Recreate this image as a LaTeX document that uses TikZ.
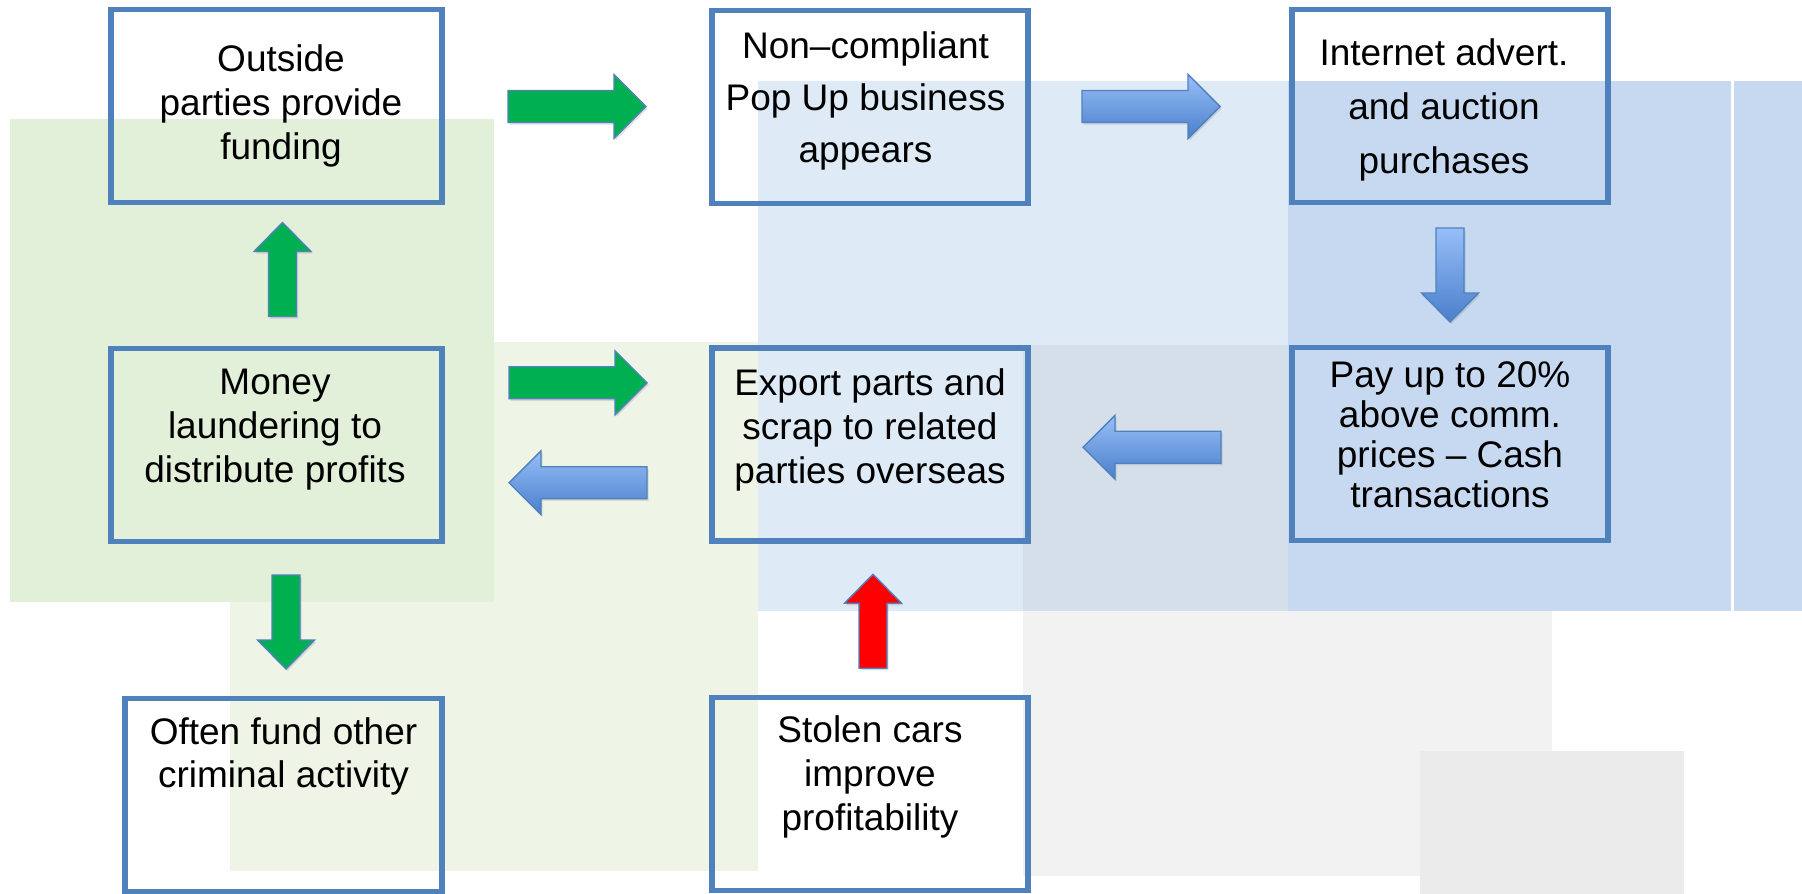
\documentclass[tikz,border=0pt]{standalone}
\usepackage{fontspec}
\setmainfont{Liberation Sans}
\usetikzlibrary{calc,shadows}
\definecolor{boxblue}{HTML}{4F81BD}
\definecolor{arrgreen}{HTML}{00B050}
\definecolor{arrred}{HTML}{FF0000}
\definecolor{arrtop}{HTML}{97BEF8}
\definecolor{arrbot}{HTML}{4A7FCB}
\definecolor{bggreen}{HTML}{E2EFD9}
\definecolor{bglgreen}{HTML}{EFF5E6}
\definecolor{bgblue}{HTML}{DEEAF6}
\definecolor{bgdblue}{HTML}{C6D9F0}
\definecolor{bggrey}{HTML}{F2F2F3}
\definecolor{bgmix}{HTML}{D5DFE9}
\definecolor{bgdgrey}{HTML}{EBEBEB}
\tikzset{
  box/.style={draw=boxblue, line width=5.5pt, minimum width=316pt, minimum height=193pt, inner sep=0pt},
  boxtxt/.style={align=center, inner sep=0pt, font=\fontsize{37pt}{44pt}\selectfont},
  arrline/.style={draw=boxblue, line width=1.4pt, drop shadow={opacity=0.25, shadow xshift=1.5pt, shadow yshift=-2pt}},
  greenarr/.style={arrline, fill=arrgreen},
  redarr/.style={arrline, fill=arrred},
  bluearr/.style={arrline, top color=arrtop, bottom color=arrbot},
  pics/harrow/.style={code={\path[#1] (-69,-16) -- (37,-16) -- (37,-32) -- (69,0) -- (37,32) -- (37,16) -- (-69,16) -- cycle;}},
  pics/varrow/.style={code={\path[#1] (-14,-47) -- (14,-47) -- (14,18) -- (28.5,18) -- (0,47) -- (-28.5,18) -- (-14,18) -- cycle;}},
}
\begin{document}
\begin{tikzpicture}[x=1pt,y=-1pt]
\fill[white] (0,0) rectangle (1802,894);
\useasboundingbox (0,0) rectangle (1802,894);
\fill[bglgreen] (230,342) rectangle (758,871);
\fill[bggreen] (10,119) rectangle (494,602);
\fill[bggrey] (1023,345) rectangle (1552,876);
\fill[bgdgrey] (1420,751) rectangle (1684,894);
\fill[bgblue] (758,81) rectangle (1288,611);
\fill[bgmix] (1023,345) rectangle (1288,611);
\fill[bgdblue] (1288,81) rectangle (1731,611);
\fill[bgdblue] (1734,81) rectangle (1802,611);

\node[box, minimum width=331pt] (fund) at (276.5,106) {};
\node[box] (popup) at (870,107) {};
\node[box] (internet) at (1450,106) {};
\node[box, minimum width=331pt] (launder) at (276.5,445) {};
\node[box] (export) at (870,444.5) {};
\node[box] (paycash) at (1450,444) {};
\node[box, minimum width=317pt] (crime) at (283.5,795) {};
\node[box] (stolen) at (870,794) {};

\node[boxtxt] (fund-txt) at ($(fund.center)+(4.5,-0.5)$) {Outside\\parties provide\\funding};
\node[boxtxt, font=\fontsize{37pt}{52pt}\selectfont] (popup-txt) at ($(popup.center)+(-4.5,-6)$) {Non--compliant\\Pop Up business\\appears};
\node[boxtxt, font=\fontsize{37pt}{54pt}\selectfont] (internet-txt) at ($(internet.center)+(-6,3.5)$) {Internet advert.\\and auction\\purchases};
\node[boxtxt] (launder-txt) at ($(launder.center)+(-1.5,-15)$) {Money\\laundering to\\distribute profits};
\node[boxtxt] (export-txt) at ($(export.center)+(0,-14.5)$) {Export parts and\\scrap to related\\parties overseas};
\node[boxtxt, font=\fontsize{37pt}{40pt}\selectfont] (paycash-txt) at ($(paycash.center)+(0,-9)$) {Pay up to 20\%\\above comm.\\prices -- Cash\\transactions};
\node[boxtxt, font=\fontsize{37pt}{43pt}\selectfont] (crime-txt) at ($(crime.center)+(0,-39)$) {Often fund other\\criminal activity};
\node[boxtxt] (stolen-txt) at ($(stolen.center)+(0,-17)$) {Stolen cars\\improve\\profitability};

\pic at ($(fund.east)!.5!(popup.west)$) {harrow=greenarr};
\pic at ($(popup.east)!.5!(internet.west)+(-9,0)$) {harrow=bluearr};
\pic at ($(internet.south)!.5!(paycash.north)$) {varrow=bluearr};
\pic[xscale=-1] at ($(export.east)!.5!(paycash.west)+(-8,3)$) {harrow=bluearr};
\pic at ($(launder.east)!.5!(export.west)+(1,-62)$) {harrow=greenarr};
\pic[xscale=-1] at ($(launder.east)!.5!(export.west)+(1,38)$) {harrow=bluearr};
\pic[yscale=-1] at ($(launder.north)!.5!(fund.south)+(6,-6)$) {varrow=greenarr};
\pic at ($(launder.south)!.5!(crime.north)+(6,2)$) {varrow=greenarr};
\pic[yscale=-1] at ($(stolen.north)!.5!(export.south)+(3,2)$) {varrow=redarr};
\end{tikzpicture}
\end{document}
